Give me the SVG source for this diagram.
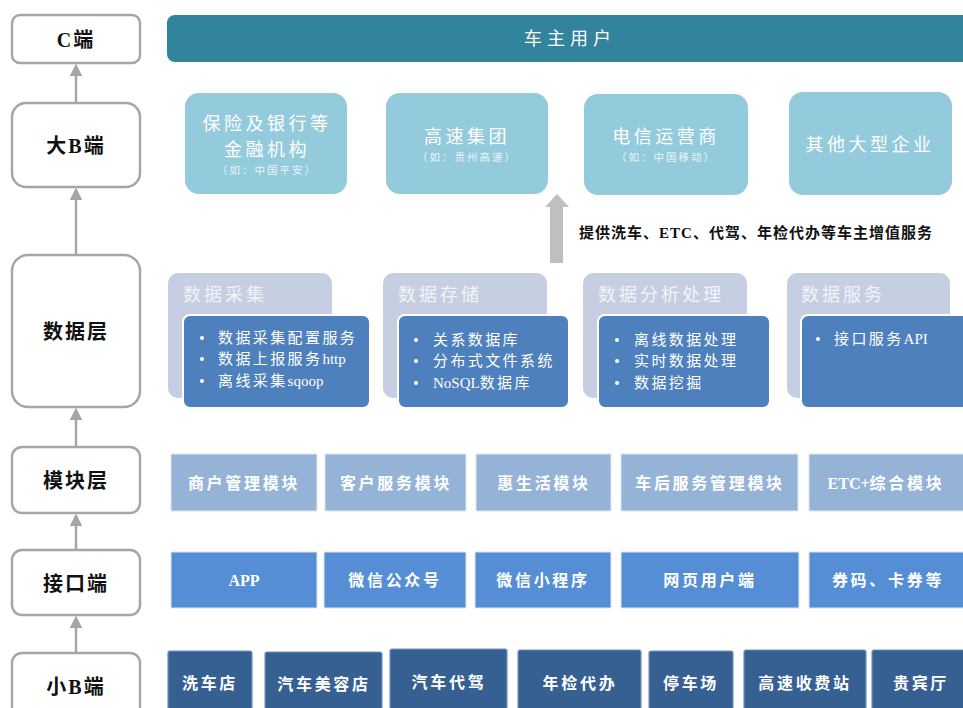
<svg xmlns="http://www.w3.org/2000/svg" width="963" height="708" viewBox="0 0 963 708">
<defs>
<style>
text{font-family:"Liberation Serif","Noto Sans CJK SC",serif;text-anchor:middle;dominant-baseline:central}
.lbox{fill:#fff;stroke:#a6a6a6;stroke-width:2.5}
.ltxt{font-size:20px;font-weight:bold;fill:#111;letter-spacing:2px}
.bigb{fill:#93cbdc}
.bt{font-size:18px;fill:#fff;letter-spacing:3.5px}
.bs{font-size:10.5px;fill:#eaf5f9;letter-spacing:2px}
.back{fill:#c5cfe1}
.front{fill:#4d80bd;stroke:#fff;stroke-width:2}
.dh{font-size:18px;fill:#f2f4f9;letter-spacing:3px;text-anchor:start}
.di{font-size:15px;fill:#fff;letter-spacing:2.4px;text-anchor:start}
.dot{fill:#fff}
.mod{fill:#95b3d7;stroke:#dfe8f3;stroke-width:1}
.itf{fill:#558ed5;stroke:#dfe8f3;stroke-width:1}
.smb{fill:#376092;stroke:#6f93c4;stroke-width:1.2}
.wt{font-size:16px;fill:#fff;letter-spacing:2.7px;font-weight:bold}
.conn{stroke:#a6a6a6;stroke-width:2.5;fill:none}
text .lat,text.lat{letter-spacing:0}
</style>
<marker id="ah" viewBox="0 0 10 10" refX="8" refY="5" markerWidth="5" markerHeight="5" orient="auto" markerUnits="strokeWidth">
<path d="M0,0 L10,5 L0,10 z" fill="#a6a6a6"/>
</marker>
</defs>

<!-- Left column -->
<g id="n-c"><rect class="lbox" x="12" y="15" width="128" height="48" rx="8"/><text class="ltxt" x="76" y="40">C端</text></g>
<g id="n-bigb"><rect class="lbox" x="12" y="103" width="128" height="84" rx="14"/><text class="ltxt" x="76" y="146">大B端</text></g>
<g id="n-data"><rect class="lbox" x="12" y="255" width="128" height="152" rx="16"/><text class="ltxt" x="76" y="332">数据层</text></g>
<g id="n-mod"><rect class="lbox" x="12" y="447" width="128" height="66" rx="10"/><text class="ltxt" x="76" y="481">模块层</text></g>
<g id="n-itf"><rect class="lbox" x="12" y="550" width="128" height="65" rx="10"/><text class="ltxt" x="76" y="584">接口端</text></g>
<g id="n-smallb"><rect class="lbox" x="12" y="653" width="128" height="70" rx="10"/><text class="ltxt" x="76" y="687">小B端</text></g>

<g id="connectors">
<line class="conn" x1="76" y1="103" x2="76" y2="66" marker-end="url(#ah)"/>
<line class="conn" x1="76" y1="255" x2="76" y2="190" marker-end="url(#ah)"/>
<line class="conn" x1="76" y1="447" x2="76" y2="410" marker-end="url(#ah)"/>
<line class="conn" x1="76" y1="550" x2="76" y2="516" marker-end="url(#ah)"/>
<line class="conn" x1="76" y1="653" x2="76" y2="618" marker-end="url(#ah)"/>
<path d="M550,263 L550,207 L545,207 L557,194 L569,207 L563,207 L563,263 Z" fill="#bfbfbf"/>
</g>

<!-- Top bar -->
<g id="n-owner"><rect x="167" y="15" width="810" height="47" rx="8" fill="#32849c"/><text x="570" y="39" font-size="18" fill="#fff" letter-spacing="5">车主用户</text></g>

<!-- Big B nodes -->
<g id="n-fin"><rect class="bigb" x="185" y="93" width="162" height="101" rx="14"/><text class="bt" x="267" y="124">保险及银行等</text><text class="bt" x="267" y="150">金融机构</text><text class="bs" x="267" y="170">（如：中国平安）</text></g>
<g id="n-hwy"><rect class="bigb" x="386" y="93" width="162" height="101" rx="14"/><text class="bt" x="467" y="137">高速集团</text><text class="bs" x="467" y="157">（如：贵州高速）</text></g>
<g id="n-tel"><rect class="bigb" x="584" y="94" width="164" height="101" rx="14"/><text class="bt" x="666" y="137">电信运营商</text><text class="bs" x="666" y="157">（如：中国移动）</text></g>
<g id="n-other"><rect class="bigb" x="789" y="92" width="163" height="103" rx="14"/><text class="bt" x="870" y="145">其他大型企业</text></g>

<g id="n-label"><text x="756" y="233" font-size="15" font-weight="bold" fill="#111" letter-spacing="1">提供洗车、ETC、代驾、年检代办等车主增值服务</text></g>

<!-- Data layer -->
<g id="n-collect">
<rect class="back" x="168" y="273" width="164" height="125" rx="10"/>
<text class="dh" x="183" y="295">数据采集</text>
<rect class="front" x="183" y="315" width="187" height="93" rx="7"/>
<circle class="dot" cx="202" cy="338" r="2"/><circle class="dot" cx="202" cy="359" r="2"/><circle class="dot" cx="202" cy="381" r="2"/>
<text class="di" x="218" y="338">数据采集配置服务</text>
<text class="di" x="218" y="359">数据上报服务<tspan class="lat">http</tspan></text>
<text class="di" x="218" y="381">离线采集<tspan class="lat">sqoop</tspan></text>
</g>
<g id="n-store">
<rect class="back" x="383" y="273" width="164" height="125" rx="10"/>
<text class="dh" x="398" y="295">数据存储</text>
<rect class="front" x="398" y="315" width="171" height="93" rx="7"/>
<circle class="dot" cx="416" cy="340" r="2"/><circle class="dot" cx="416" cy="361" r="2"/><circle class="dot" cx="416" cy="383" r="2"/>
<text class="di" x="433" y="340">关系数据库</text>
<text class="di" x="433" y="361">分布式文件系统</text>
<text class="di" x="433" y="383"><tspan class="lat">NoSQL</tspan>数据库</text>
</g>
<g id="n-analysis">
<rect class="back" x="583" y="273" width="164" height="125" rx="10"/>
<text class="dh" x="598" y="295">数据分析处理</text>
<rect class="front" x="598" y="315" width="172" height="93" rx="7"/>
<circle class="dot" cx="617" cy="340" r="2"/><circle class="dot" cx="617" cy="361" r="2"/><circle class="dot" cx="617" cy="383" r="2"/>
<text class="di" x="634" y="340">离线数据处理</text>
<text class="di" x="634" y="361">实时数据处理</text>
<text class="di" x="634" y="383">数据挖掘</text>
</g>
<g id="n-service">
<rect class="back" x="787" y="273" width="163" height="125" rx="10"/>
<text class="dh" x="801" y="295">数据服务</text>
<rect class="front" x="801" y="315" width="180" height="93" rx="7"/>
<circle class="dot" cx="818" cy="339" r="2"/>
<text class="di" x="834" y="339">接口服务<tspan class="lat">API</tspan></text>
</g>

<!-- Module row -->
<g id="n-m1"><rect class="mod" x="171" y="454" width="146" height="57"/><text class="wt" x="244" y="483">商户管理模块</text></g>
<g id="n-m2"><rect class="mod" x="325" y="454" width="141" height="57"/><text class="wt" x="396" y="483">客户服务模块</text></g>
<g id="n-m3"><rect class="mod" x="476" y="454" width="135" height="57"/><text class="wt" x="544" y="483">惠生活模块</text></g>
<g id="n-m4"><rect class="mod" x="621" y="454" width="177" height="57"/><text class="wt" x="710" y="483">车后服务管理模块</text></g>
<g id="n-m5"><rect class="mod" x="809" y="454" width="160" height="57"/><text class="wt" x="886" y="483"><tspan class="lat">ETC+</tspan>综合模块</text></g>

<!-- Interface row -->
<g id="n-i1"><rect class="itf" x="171" y="552" width="146" height="56"/><text class="wt lat" x="244" y="580">APP</text></g>
<g id="n-i2"><rect class="itf" x="324" y="552" width="142" height="56"/><text class="wt" x="395" y="580">微信公众号</text></g>
<g id="n-i3"><rect class="itf" x="475" y="552" width="136" height="56"/><text class="wt" x="543" y="580">微信小程序</text></g>
<g id="n-i4"><rect class="itf" x="621" y="552" width="178" height="56"/><text class="wt" x="710" y="580">网页用户端</text></g>
<g id="n-i5"><rect class="itf" x="809" y="552" width="160" height="56"/><text class="wt" x="888" y="580">券码、卡券等</text></g>

<!-- Small B row -->
<g id="n-s1"><rect class="smb" x="168" y="651" width="84" height="70" rx="2"/><text class="wt" x="210" y="683">洗车店</text></g>
<g id="n-s2"><rect class="smb" x="265" y="652" width="117" height="70" rx="2"/><text class="wt" x="324" y="684">汽车美容店</text></g>
<g id="n-s3"><rect class="smb" x="390" y="649" width="117" height="70" rx="2"/><text class="wt" x="449" y="682">汽车代驾</text></g>
<g id="n-s4"><rect class="smb" x="518" y="650" width="123" height="70" rx="2"/><text class="wt" x="580" y="683">年检代办</text></g>
<g id="n-s5"><rect class="smb" x="649" y="651" width="84" height="70" rx="2"/><text class="wt" x="691" y="683">停车场</text></g>
<g id="n-s6"><rect class="smb" x="744" y="650" width="122" height="70" rx="2"/><text class="wt" x="805" y="683">高速收费站</text></g>
<g id="n-s7"><rect class="smb" x="872" y="650" width="100" height="70" rx="2"/><text class="wt" x="921" y="683">贵宾厅</text></g>
</svg>
